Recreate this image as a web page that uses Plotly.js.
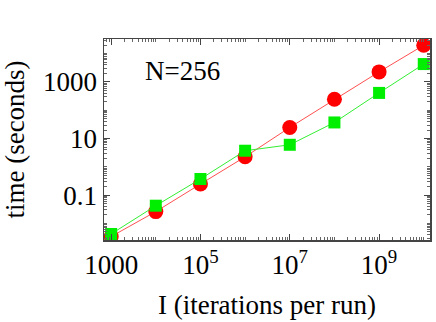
<!DOCTYPE html>
<html>
<head>
<meta charset="utf-8">
<script src="https://cdn.plot.ly/plotly-3.0.1.min.js"></script>
<style>
  html, body { margin: 0; padding: 0; background: #fff; }
  #plot { width: 436px; height: 322px; }
</style>
</head>
<body>
<div id="plot"></div>
<script>
// iterations per run
const iterations = [1e3, 1e4, 1e5, 1e6, 1e7, 1e8, 1e9, 1e10];
// time in seconds
const timeRed = [0.0034, 0.026, 0.245, 2.25, 24.6, 245, 2275, 20000];
const timeGreen = [0.0042, 0.042, 0.37, 3.7, 6.0, 37, 410, 4300];

const xTickVals = [1e3, 1e5, 1e7, 1e9];
const xTickText = ['1000', '10<sup>5</sup>', '10<sup>7</sup>', '10<sup>9</sup>'];
const yTickVals = [0.1, 10, 1000];
const yTickText = ['0.1', '10', '1000'];

const serif = 'Liberation Serif, Times New Roman, serif';

const traces = [
    {
        x: iterations,
        y: timeRed,
        mode: 'lines+markers',
        line: { color: '#ff5050', width: 1 },
        marker: { symbol: 'circle', color: '#ff0000', size: 15 },
        showlegend: false
    },
    {
        x: iterations,
        y: timeGreen,
        mode: 'lines+markers',
        line: { color: '#33ee33', width: 1 },
        marker: { symbol: 'square', color: '#00ee00', size: 12 },
        showlegend: false
    }
];

const axisCommon = {
    type: 'log',
    showgrid: false,
    zeroline: false,
    showline: true,
    linecolor: '#444',
    linewidth: 1.5,
    mirror: 'ticks',
    ticks: 'inside',
    ticklen: 6,
    tickcolor: '#444',
    tickmode: 'array',
    tickfont: { family: serif, size: 27, color: '#000' },
    minor: { ticks: 'inside', ticklen: 3, tickcolor: '#666', dtick: 'D1' }
};

const layout = {
    width: 436,
    height: 322,
    margin: { l: 104, r: 6, t: 39, b: 82 },
    paper_bgcolor: '#fff',
    plot_bgcolor: '#fff',
    xaxis: Object.assign({}, axisCommon, {
        range: [2.84, 10.14],
        tickvals: xTickVals,
        ticktext: xTickText,
        title: { text: 'I (iterations per run)', font: { family: serif, size: 27, color: '#000' }, standoff: 16 }
    }),
    yaxis: Object.assign({}, axisCommon, {
        range: [-2.59, 4.52],
        tickvals: yTickVals,
        ticktext: yTickText,
        title: { text: 'time (seconds)', font: { family: serif, size: 27, color: '#000' }, standoff: 10 }
    }),
    annotations: [
        {
            text: 'N=256',
            xref: 'paper', yref: 'paper',
            x: 0.24, y: 0.84,
            xanchor: 'center', yanchor: 'middle',
            showarrow: false,
            font: { family: serif, size: 27, color: '#000' }
        }
    ]
};

Plotly.newPlot('plot', traces, layout, { displayModeBar: false, staticPlot: true });
</script>
</body>
</html>
